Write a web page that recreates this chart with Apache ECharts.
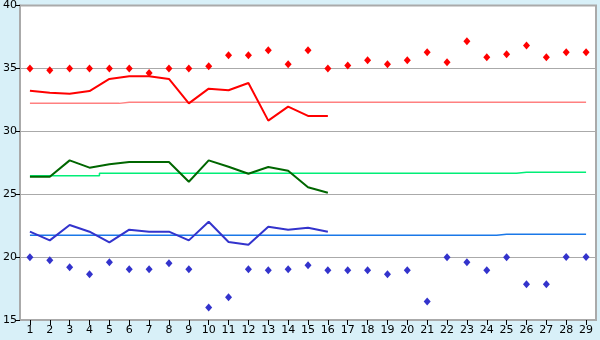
<!DOCTYPE html>
<html>
<head>
<meta charset="utf-8">
<script src="https://cdn.jsdelivr.net/npm/echarts@6/dist/echarts.min.js"></script>
<style>
html,body{margin:0;padding:0;background:#d8f0f8;}
#c{width:600px;height:340px;}
</style>
</head>
<body>
<div id="c"></div>
<script>
const categories = ['1','2','3','4','5','6','7','8','9','10','11','12','13','14','15','16','17','18','19','20','21','22','23','24','25','26','27','28','29'];
const yTicks = [15, 20, 25, 30, 35, 40];

const redPoints = [35.0,34.85,35.0,35.0,35.0,35.0,34.63,35.0,35.0,35.17,36.04,36.04,36.44,35.32,36.44,35.0,35.24,35.64,35.32,35.64,36.28,35.48,37.15,35.88,36.12,36.83,35.88,36.28,36.28];
const redLine = [33.23,33.07,32.99,33.2,34.16,34.37,34.37,34.16,32.22,33.39,33.26,33.84,30.85,31.96,31.22,31.22];
const redRef = [32.22,32.22,32.22,32.22,32.22,32.3,32.3,32.3,32.3,32.3,32.3,32.3,32.3,32.3,32.3,32.3,32.3,32.3,32.3,32.3,32.3,32.3,32.3,32.3,32.3,32.3,32.3,32.3,32.3];

const greenLine = [26.39,26.39,27.69,27.11,27.38,27.56,27.56,27.56,25.99,27.69,27.18,26.63,27.16,26.87,25.55,25.12];
const greenRef = [26.47,26.47,26.47,26.47,26.66,26.66,26.66,26.66,26.66,26.66,26.66,26.66,26.66,26.66,26.66,26.66,26.66,26.66,26.66,26.66,26.66,26.66,26.66,26.66,26.66,26.74,26.74,26.74,26.74];

const blueLine = [22.02,21.33,22.55,22.02,21.17,22.18,22.02,22.02,21.33,22.81,21.2,20.99,22.42,22.18,22.34,22.02];
const blueRef = [21.73,21.73,21.73,21.73,21.73,21.73,21.73,21.73,21.73,21.73,21.73,21.73,21.73,21.73,21.73,21.73,21.73,21.73,21.73,21.73,21.73,21.73,21.73,21.73,21.81,21.81,21.81,21.81,21.81];
const bluePoints = [19.98,19.74,19.19,18.63,19.59,19.03,19.03,19.51,19.03,16.0,16.8,19.03,18.95,19.03,19.35,18.95,18.95,18.95,18.63,18.95,16.48,19.98,19.59,18.95,19.98,17.84,17.84,20.0,20.0];

const chart = echarts.init(document.getElementById('c'), null, {renderer:'canvas'});
const font = 'DejaVu Sans';
function refSeries(data, color){
  return {type:'line', data:data, step:'middle', symbol:'none', silent:true,
    lineStyle:{color:color, width:1.5}, z:2, animation:false};
}
function mainLine(data, color){
  return {type:'line', data:data, symbol:'none', lineStyle:{color:color, width:2}, z:3, animation:false};
}
function pts(data, color){
  return {type:'scatter', data:data, symbol:'diamond', symbolSize:[7,8], itemStyle:{color:color, opacity:1}, z:4, animation:false};
}
chart.setOption({
  backgroundColor:'#d8f0f8',
  animation:false,
  grid:{left:20, right:4, top:5.5, bottom:20, show:true, backgroundColor:'#ffffff', borderColor:'#aaaaaa', borderWidth:2},
  xAxis:{type:'category', data:categories, boundaryGap:true,
    axisLine:{show:true, lineStyle:{color:'#aaaaaa', width:2}},
    axisTick:{show:true, alignWithLabel:true, length:5, lineStyle:{color:'#000000'}},
    axisLabel:{color:'#000', fontFamily:font, fontSize:11, margin:5, interval:0},
    splitLine:{show:false}},
  yAxis:{type:'value', min:yTicks[0], max:yTicks[yTicks.length-1], interval:5,
    axisLine:{show:true, lineStyle:{color:'#aaaaaa', width:2}},
    axisTick:{show:true, length:4, lineStyle:{color:'#000000'}},
    axisLabel:{color:'#000', fontFamily:font, fontSize:11, margin:3, lineHeight:11},
    splitLine:{show:true, lineStyle:{color:'#aaaaaa', width:1}}},
  series:[
    refSeries(redRef,'#ff8080'),
    refSeries(greenRef,'#00ee77'),
    refSeries(blueRef,'#1a78e8'),
    mainLine(redLine,'#ff0000'),
    mainLine(greenLine,'#006600'),
    mainLine(blueLine,'#3333cc'),
    pts(redPoints,'#ff0000'),
    pts(bluePoints,'#3333cc')
  ]
});
</script>
</body>
</html>
